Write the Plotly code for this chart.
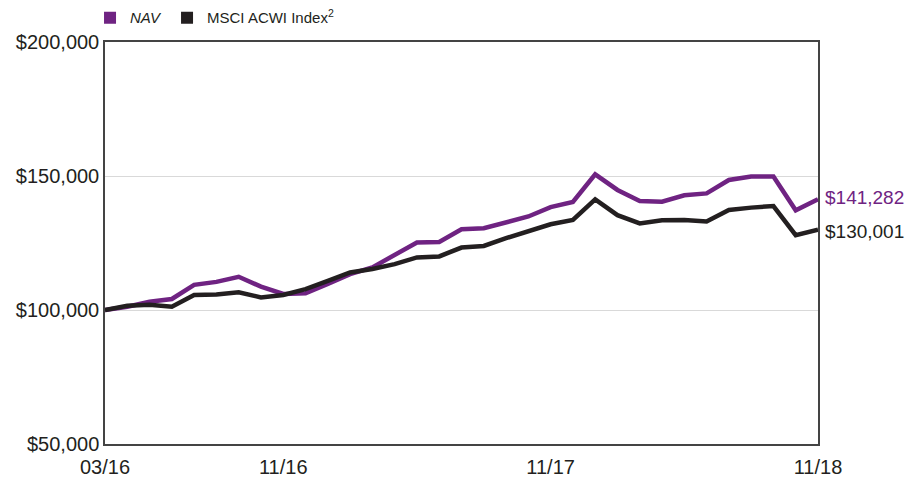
import plotly.graph_objects as go

months = list(range(33))  # 03/16 .. 11/18 monthly
tick_vals = [0, 8, 20, 32]
tick_text = ["03/16", "11/16", "11/17", "11/18"]

nav = [100000, 101200, 103100, 104100, 109400, 110500, 112400, 108700, 106000, 106200,
       109700, 113400, 115900, 120500, 125200, 125400, 130100, 130500, 132900, 134900,
       138400, 140300, 150600, 144800, 140700, 140400, 142800, 143500, 148500, 149800,
       149800, 137200, 141282]
msci = [100000, 101600, 102000, 101200, 105600, 105800, 106600, 104700, 105600, 107800,
        110900, 114000, 115300, 117100, 119600, 120000, 123300, 123900, 126800, 129500,
        132000, 133600, 141300, 135400, 132300, 133500, 133600, 133000, 137300, 138200,
        138800, 127900, 130001]

y_ticks = [50000, 100000, 150000, 200000]
y_text = ["$50,000", "$100,000", "$150,000", "$200,000"]

PURPLE = "#6F2382"
BLACK = "#231F20"
FONT = "Liberation Sans, Arial"

fig = go.Figure()
fig.add_trace(go.Scatter(x=months, y=nav, mode="lines", line=dict(color=PURPLE, width=4.5),
                         showlegend=False, hoverinfo="skip"))
fig.add_trace(go.Scatter(x=months, y=msci, mode="lines", line=dict(color=BLACK, width=4.5),
                         showlegend=False, hoverinfo="skip"))
# legend entries with square swatches
fig.add_trace(go.Scatter(x=[None], y=[None], mode="markers", name="<i>NAV</i>",
                         marker=dict(symbol="square", size=12, color=PURPLE)))
fig.add_trace(go.Scatter(x=[None], y=[None], mode="markers", name="MSCI ACWI Index<sup>2</sup>",
                         marker=dict(symbol="square", size=12, color=BLACK)))

fig.add_annotation(x=months[-1], y=nav[-1], text=f"${nav[-1]:,}", showarrow=False,
                   xanchor="left", xshift=5, yshift=2,
                   font=dict(family=FONT, size=19, color=PURPLE))
fig.add_annotation(x=months[-1], y=msci[-1], text=f"${msci[-1]:,}", showarrow=False,
                   xanchor="left", xshift=5, yshift=-2,
                   font=dict(family=FONT, size=19, color=BLACK))

fig.update_layout(
    width=906, height=473,
    margin=dict(l=97, r=96, t=34, b=37, autoexpand=False),
    paper_bgcolor="white", plot_bgcolor="white",
    font=dict(family=FONT, size=18, color="#231F20"),
    legend=dict(orientation="h", x=-0.021, y=1.06, yanchor="middle", xanchor="left",
                font=dict(family=FONT, size=15, color="#231F20"),
                tracegroupgap=0, bgcolor="rgba(0,0,0,0)"),
    showlegend=True,
)
fig.update_xaxes(range=[0, 32], tickvals=tick_vals, ticktext=tick_text, showgrid=False,
                 showline=True, linecolor="#444", linewidth=1.5, mirror=True,
                 ticks="", zeroline=False, automargin=False, ticklabelstandoff=4,
                 tickfont=dict(family=FONT, size=20))
fig.update_yaxes(range=[50000, 200000], tickvals=y_ticks, ticktext=y_text, showgrid=True,
                 gridcolor="#D9D9D9", gridwidth=1, showline=True, linecolor="#444",
                 linewidth=1.5, mirror=True, ticks="", zeroline=False, automargin=False,
                 tickfont=dict(family=FONT, size=20))

fig.write_html("out.html")
